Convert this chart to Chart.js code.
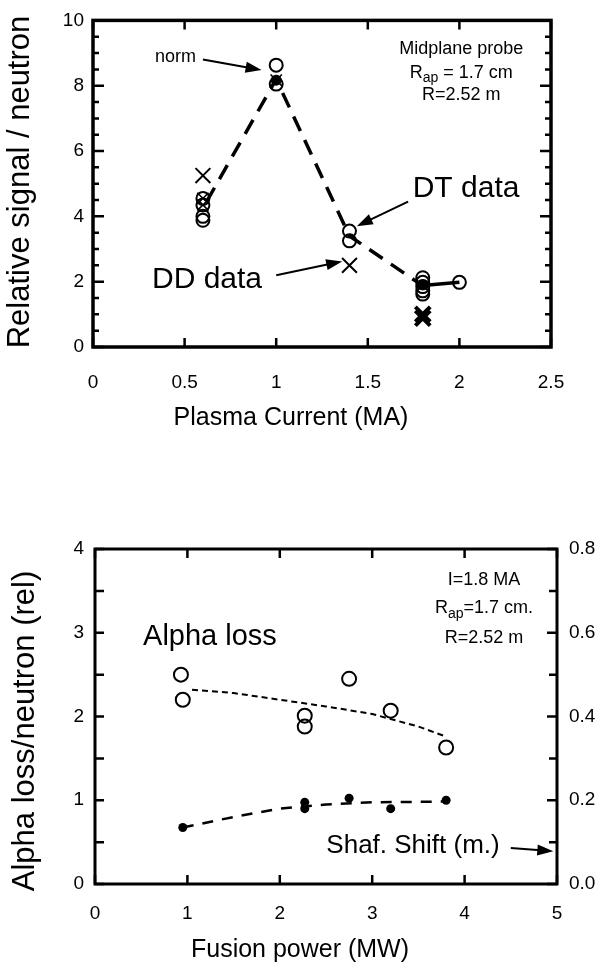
<!DOCTYPE html>
<html>
<head>
<meta charset="utf-8">
<script src="https://cdn.jsdelivr.net/npm/chart.js@4.4.1/dist/chart.umd.min.js"></script>
<style>
  body { margin: 0; background: #fff; width: 612px; height: 969px; position: relative; overflow: hidden; }
  canvas { position: absolute; left: 0; }
  #signal { top: 0; }
  #alpha { top: 500px; }
</style>
</head>
<body>
<canvas id="signal" width="612" height="440"></canvas>
<canvas id="alpha" width="612" height="469"></canvas>
<script>
// ---- top panel: relative signal vs plasma current ----
const currentTicks = [0, 0.5, 1, 1.5, 2, 2.5];
const signalTicks = [0, 2, 4, 6, 8, 10];

const dtCurrent = [0.6, 0.6, 0.6, 0.6, 1, 1, 1.4, 1.4, 1.8, 1.8, 1.8, 1.8, 1.8, 2];
const dtSignal = [4.55, 4.35, 4.0, 3.88, 8.63, 8.05, 3.55, 3.25, 2.12, 1.98, 1.85, 1.72, 1.62, 1.98];
const filledCurrent = [1, 1.8];
const filledSignal = [8.17, 1.9];
const ddCurrent = [0.6, 1.4];
const ddSignal = [5.25, 2.5];
const ddSmallCurrent = [0.6, 0.6, 1];
const ddSmallSignal = [4.55, 4.35, 8.17];
const ddBoldCurrent = [1.8, 1.8];
const ddBoldSignal = [1.0, 0.88];
const trendCurrent = [0.62, 1, 1.4, 1.78];
const trendSignal = [4.45, 8.2, 3.4, 1.95];
const linkCurrent = [1.8, 2];
const linkSignal = [1.88, 1.98];

// ---- bottom panel: alpha loss vs fusion power ----
const powerTicks = [0, 1, 2, 3, 4, 5];
const lossTicks = [0, 1, 2, 3, 4];
const shiftTicks = [0, 0.2, 0.4, 0.6, 0.8];

const alphaPower = [0.93, 0.95, 2.27, 2.27, 2.75, 3.2, 3.8];
const alphaLoss = [2.5, 2.2, 2.01, 1.88, 2.45, 2.07, 1.63];
const alphaFitPower = [1.05, 1.5, 2, 2.5, 3, 3.5, 3.8];
const alphaFitLoss = [2.32, 2.28, 2.2, 2.12, 2.03, 1.88, 1.76];
const shiftPower = [0.95, 2.27, 2.27, 2.75, 3.2, 3.8];
const shafShift = [0.135, 0.195, 0.18, 0.205, 0.18, 0.2];
const shiftFitPower = [0.95, 1.5, 2, 2.5, 3, 3.8];
const shiftFit = [0.135, 0.16, 0.18, 0.19, 0.195, 0.197];

const FAM = "'Liberation Sans', Arial, sans-serif";
Chart.defaults.font.family = FAM;
Chart.defaults.color = '#000';

const pts = (xs, ys) => xs.map((x, i) => ({ x: x, y: ys[i] }));

// frame plus inward ticks on every side
const frameTicks = {
  id: 'frameTicks',
  afterDatasetsDraw(chart, args, o) {
    const ctx = chart.ctx;
    const a = chart.chartArea;
    ctx.save();
    ctx.strokeStyle = '#000';
    ctx.lineWidth = o.frame;
    ctx.strokeRect(a.left, a.top, a.right - a.left, a.bottom - a.top);
    ctx.lineWidth = o.tickWidth;
    ctx.beginPath();
    o.marks.forEach(m => {
      const s = chart.scales[m.scale];
      const n = Math.round((s.max - s.min) / m.step);
      for (let i = 0; i <= n; i++) {
        const v = s.min + i * m.step;
        const big = m.every && Math.abs(v / m.every - Math.round(v / m.every)) < 1e-6;
        const len = big ? m.bigLen : m.len;
        const p = s.getPixelForValue(v);
        m.sides.forEach(side => {
          if (side === 'bottom') { ctx.moveTo(p, a.bottom); ctx.lineTo(p, a.bottom - len); }
          if (side === 'top') { ctx.moveTo(p, a.top); ctx.lineTo(p, a.top + len); }
          if (side === 'left') { ctx.moveTo(a.left, p); ctx.lineTo(a.left + len, p); }
          if (side === 'right') { ctx.moveTo(a.right, p); ctx.lineTo(a.right - len, p); }
        });
      }
    });
    ctx.stroke();
    ctx.restore();
  }
};

function drawRich(ctx, parts, x, y, size, align) {
  let w = 0;
  parts.forEach(p => { ctx.font = (p[1] ? size * 0.78 : size) + 'px ' + FAM; w += ctx.measureText(p[0]).width; });
  let cx = align === 'left' ? x : align === 'right' ? x - w : x - w / 2;
  ctx.textAlign = 'left';
  ctx.textBaseline = 'middle';
  parts.forEach(p => {
    ctx.font = (p[1] ? size * 0.78 : size) + 'px ' + FAM;
    ctx.fillText(p[0], cx, p[1] ? y + size * 0.32 : y);
    cx += ctx.measureText(p[0]).width;
  });
}

function arrow(ctx, x1, y1, x2, y2, width) {
  const ang = Math.atan2(y2 - y1, x2 - x1);
  const L = 16, H = 5.5;
  ctx.lineWidth = width;
  ctx.beginPath();
  ctx.moveTo(x1, y1);
  ctx.lineTo(x2 - L * 0.8 * Math.cos(ang), y2 - L * 0.8 * Math.sin(ang));
  ctx.stroke();
  ctx.beginPath();
  ctx.moveTo(x2, y2);
  ctx.lineTo(x2 - L * Math.cos(ang) + H * Math.sin(ang), y2 - L * Math.sin(ang) - H * Math.cos(ang));
  ctx.lineTo(x2 - L * Math.cos(ang) - H * Math.sin(ang), y2 - L * Math.sin(ang) + H * Math.cos(ang));
  ctx.closePath();
  ctx.fill();
}

// annotations in data units (through the scales); axis titles in canvas pixels
const notes = {
  id: 'notes',
  afterDraw(chart, args, o) {
    const ctx = chart.ctx;
    const X = v => chart.scales.x.getPixelForValue(v);
    const Y = v => chart.scales.y.getPixelForValue(v);
    ctx.save();
    ctx.fillStyle = '#000';
    ctx.strokeStyle = '#000';
    o.items.forEach(it => {
      if (it.text) drawRich(ctx, it.text, X(it.at[0]), Y(it.at[1]), it.size, it.align || 'center');
      if (it.arrow) arrow(ctx, X(it.arrow[0]), Y(it.arrow[1]), X(it.arrow[2]), Y(it.arrow[3]), it.width || 2);
    });
    o.titles.forEach(t => {
      ctx.save();
      ctx.translate(t.x, t.y);
      if (t.vertical) ctx.rotate(-Math.PI / 2);
      drawRich(ctx, [[t.text, 0]], 0, 0, t.size, 'center');
      ctx.restore();
    });
    ctx.restore();
  }
};

const noLine = { showLine: false, borderColor: '#000', backgroundColor: 'rgba(0,0,0,0)' };

new Chart(document.getElementById('signal'), {
  type: 'scatter',
  data: {
    datasets: [
      { data: pts(trendCurrent, trendSignal), showLine: true, borderColor: '#000', borderWidth: 3.5, borderDash: [16, 10], pointRadius: 0 },
      { data: pts(linkCurrent, linkSignal), showLine: true, borderColor: '#000', borderWidth: 3.5, pointRadius: 0 },
      { ...noLine, data: pts(dtCurrent, dtSignal), pointStyle: 'circle', pointRadius: 6.5, borderWidth: 2 },
      { ...noLine, data: pts(filledCurrent, filledSignal), pointStyle: 'circle', pointRadius: 5, backgroundColor: '#000', borderWidth: 1 },
      { ...noLine, data: pts(ddCurrent, ddSignal), pointStyle: 'crossRot', pointRadius: 10.5, borderWidth: 2 },
      { ...noLine, data: pts(ddSmallCurrent, ddSmallSignal), pointStyle: 'crossRot', pointRadius: 8, borderWidth: 1.6 },
      { ...noLine, data: pts(ddBoldCurrent, ddBoldSignal), pointStyle: 'crossRot', pointRadius: 10.5, borderWidth: 4 }
    ]
  },
  options: {
    responsive: false,
    animation: false,
    layout: { padding: { top: 18, right: 61, left: 0, bottom: 0 } },
    plugins: {
      legend: { display: false },
      tooltip: { enabled: false },
      frameTicks: {
        frame: 3.5, tickWidth: 2.5,
        marks: [
          { scale: 'x', step: 0.5, len: 9, sides: ['bottom', 'top'] },
          { scale: 'y', step: 0.5, len: 6, every: 2, bigLen: 11, sides: ['left', 'right'] }
        ]
      },
      notes: {
        items: [
          { text: [['norm', 0]], at: [0.45, 8.88], size: 18 },
          { arrow: [0.6, 8.8, 0.92, 8.48], width: 2 },
          { text: [['Midplane probe', 0]], at: [2.01, 9.12], size: 18 },
          { text: [['R', 0], ['ap', 1], [' = 1.7 cm', 0]], at: [2.01, 8.4], size: 18 },
          { text: [['R=2.52 m', 0]], at: [2.01, 7.7], size: 18 },
          { text: [['DT data', 0]], at: [1.745, 4.86], size: 30, align: 'left' },
          { arrow: [1.72, 4.45, 1.44, 3.7], width: 2 },
          { text: [['DD data', 0]], at: [0.322, 2.05], size: 30, align: 'left' },
          { arrow: [1.0, 2.2, 1.36, 2.62], width: 2 }
        ],
        titles: [
          { text: 'Plasma Current (MA)', x: 291, y: 418, size: 25 },
          { text: 'Relative signal / neutron', x: 20, y: 182, size: 31, vertical: true }
        ]
      }
    },
    scales: {
      x: {
        type: 'linear', min: 0, max: 2.5, position: 'bottom',
        afterBuildTicks: s => { s.ticks = currentTicks.map(v => ({ value: v })); },
        afterFit: s => { s.height = 93; },
        grid: { display: false, drawTicks: false },
        border: { display: false },
        ticks: { font: { size: 19 }, padding: 24, maxRotation: 0, autoSkip: false, callback: v => String(v) }
      },
      y: {
        type: 'linear', min: 0, max: 10, position: 'left',
        afterBuildTicks: s => { s.ticks = signalTicks.map(v => ({ value: v })); },
        afterFit: s => { s.width = 93; },
        grid: { display: false, drawTicks: false },
        border: { display: false },
        ticks: { font: { size: 19 }, padding: 9, callback: v => String(v) }
      }
    }
  },
  plugins: [frameTicks, notes]
});

new Chart(document.getElementById('alpha'), {
  type: 'scatter',
  data: {
    datasets: [
      { data: pts(alphaFitPower, alphaFitLoss), showLine: true, borderColor: '#000', borderWidth: 2, borderDash: [6, 4], pointRadius: 0 },
      { data: pts(shiftFitPower, shiftFit), yAxisID: 'y2', showLine: true, borderColor: '#000', borderWidth: 2.5, borderDash: [11, 9], pointRadius: 0 },
      { ...noLine, data: pts(alphaPower, alphaLoss), pointStyle: 'circle', pointRadius: 7, borderWidth: 2 },
      { ...noLine, data: pts(shiftPower, shafShift), yAxisID: 'y2', pointStyle: 'circle', pointRadius: 4.5, backgroundColor: '#000', borderWidth: 0 }
    ]
  },
  options: {
    responsive: false,
    animation: false,
    layout: { padding: { top: 49, right: 0, left: 0, bottom: 0 } },
    plugins: {
      legend: { display: false },
      tooltip: { enabled: false },
      frameTicks: {
        frame: 3, tickWidth: 2.5,
        marks: [
          { scale: 'x', step: 1, len: 9, sides: ['bottom', 'top'] },
          { scale: 'y', step: 0.5, len: 9, sides: ['left'] },
          { scale: 'y2', step: 0.1, len: 8, every: 0.2, bigLen: 10, sides: ['right'] }
        ]
      },
      notes: {
        items: [
          { text: [['I=1.8 MA', 0]], at: [4.21, 3.63], size: 18 },
          { text: [['R', 0], ['ap', 1], ['=1.7 cm.', 0]], at: [4.21, 3.29], size: 18 },
          { text: [['R=2.52 m', 0]], at: [4.21, 2.94], size: 18 },
          { text: [['Alpha loss', 0]], at: [0.52, 2.95], size: 29, align: 'left' },
          { text: [['Shaf. Shift (m.)', 0]], at: [4.38, 0.45], size: 26, align: 'right' },
          { arrow: [4.5, 0.43, 4.96, 0.39], width: 2 }
        ],
        titles: [
          { text: 'Fusion power (MW)', x: 300, y: 450, size: 25 },
          { text: 'Alpha loss/neutron (rel)', x: 25, y: 231, size: 31, vertical: true }
        ]
      }
    },
    scales: {
      x: {
        type: 'linear', min: 0, max: 5, position: 'bottom',
        afterBuildTicks: s => { s.ticks = powerTicks.map(v => ({ value: v })); },
        afterFit: s => { s.height = 85; },
        grid: { display: false, drawTicks: false },
        border: { display: false },
        ticks: { font: { size: 19 }, padding: 18, maxRotation: 0, autoSkip: false, callback: v => String(v) }
      },
      y: {
        type: 'linear', min: 0, max: 4, position: 'left',
        afterBuildTicks: s => { s.ticks = lossTicks.map(v => ({ value: v })); },
        afterFit: s => { s.width = 95; },
        grid: { display: false, drawTicks: false },
        border: { display: false },
        ticks: { font: { size: 19 }, padding: 11, callback: v => String(v) }
      },
      y2: {
        type: 'linear', min: 0, max: 0.8, position: 'right',
        afterBuildTicks: s => { s.ticks = shiftTicks.map(v => ({ value: v })); },
        afterFit: s => { s.width = 55; },
        grid: { display: false, drawTicks: false },
        border: { display: false },
        ticks: { font: { size: 19 }, padding: 12, callback: v => v.toFixed(1) }
      }
    }
  },
  plugins: [frameTicks, notes]
});
</script>
</body>
</html>
